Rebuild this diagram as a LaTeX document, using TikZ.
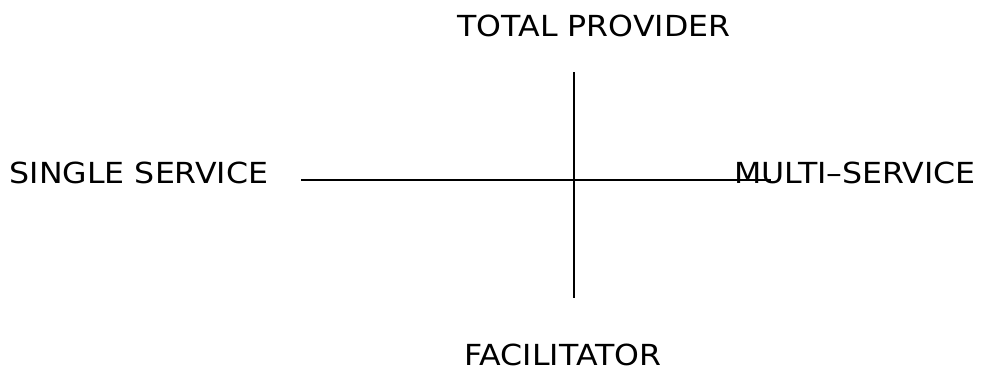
\documentclass[tikz,border=0pt]{standalone}
\usepackage{fontspec}
\setmainfont[FakeStretch=1.09]{DejaVu Sans}
\usetikzlibrary{positioning}

\begin{document}
\begin{tikzpicture}[x=1pt,y=1pt]
\useasboundingbox (0,0) rectangle (982,368);

\begin{scope}[every node/.style={font=\fontsize{29}{33}\selectfont,inner sep=0pt}]
    \node (top) at (594,342) {TOTAL PROVIDER};
    \node (left) at (139,195) {SINGLE SERVICE};
    \node (right) at (855,195) {MULTI\textendash SERVICE};
    \node (bottom) at (563,13) {FACILITATOR};
\end{scope}

\coordinate (W) at (301,188);
\coordinate (E) at (771,188);
\coordinate (N) at (574,296);
\coordinate (S) at (574,70);

\begin{scope}[every path/.style={draw=black,line width=1.4pt}]
    \path [-] (W) edge (E);
    \path [-] (N) edge (S);
\end{scope}
\end{tikzpicture}
\end{document}
